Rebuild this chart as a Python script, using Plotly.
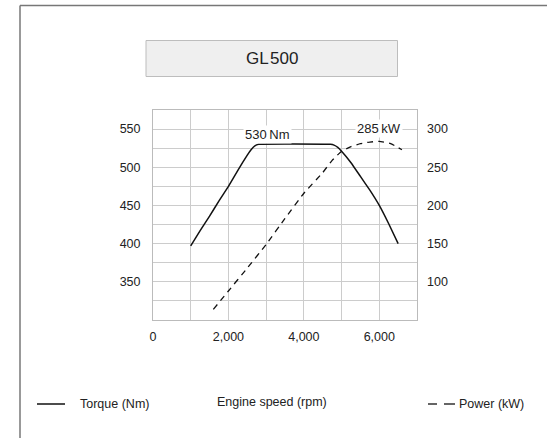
import plotly.graph_objects as go

# ---- data ----
torque_rpm = [1000, 1250, 1500, 1750, 2000, 2250, 2500, 2600, 2700, 2800, 4700, 4800, 4900, 5000, 5250, 5500, 5750, 6000, 6250, 6500]
torque_nm = [397, 417, 436, 456, 475, 496, 516, 523, 528, 530, 530, 529, 526, 521, 506, 488, 470, 450, 426, 400]

power_rpm = [1600, 2000, 2500, 3000, 3500, 4000, 4500, 4750, 5000, 5250, 5500, 5750, 6000, 6300, 6600]
power_kw = [64, 88, 118, 149, 183, 216, 243, 259, 271, 277, 281, 283, 284, 281, 273]

x_ticks = [0, 1000, 2000, 3000, 4000, 5000, 6000, 7000]
x_labels = ["0", "", "2,000", "", "4,000", "", "6,000", ""]
yl_ticks = [300, 325, 350, 375, 400, 425, 450, 475, 500, 525, 550, 575]
yl_labels = ["", "", "350", "", "400", "", "450", "", "500", "", "550", ""]
yr_ticks = [100, 150, 200, 250, 300]
yr_labels = ["100", "150", "200", "250", "300"]

title_text = "GL\u200a500"
torque_label = "530\u2009Nm"
power_label = "285\u2009kW"

FONT = "Liberation Sans"
TXT = "#222222"

fig = go.Figure()
fig.add_trace(go.Scatter(x=torque_rpm, y=torque_nm, mode="lines",
                         line=dict(color="#111111", width=1.5, shape="spline", smoothing=0.3),
                         yaxis="y", showlegend=False, hoverinfo="skip"))
fig.add_trace(go.Scatter(x=power_rpm, y=power_kw, mode="lines",
                         line=dict(color="#111111", width=1.3, dash="6px,5px", shape="spline", smoothing=0.3),
                         yaxis="y2", showlegend=False, hoverinfo="skip"))

W, H = 547, 438
PL, PR, PT, PB = 153, 417, 110, 320  # plot area in page px
L, R, T, B = PL, W - PR, PT, H - PB
PW, PH = PR - PL, PB - PT

def px(x):
    return (x - PL) / PW

def py(y):
    return (PB - y) / PH

fig.update_layout(
    width=W, height=H,
    margin=dict(l=L, r=R, t=T, b=B, pad=0),
    paper_bgcolor="white", plot_bgcolor="white",
    font=dict(family=FONT, size=12, color=TXT),
    xaxis=dict(range=[0, 7000], tickvals=x_ticks, ticktext=x_labels,
               showgrid=True, gridcolor="#cccccc", gridwidth=1,
               showline=True, linecolor="#bbbbbb", linewidth=1, mirror=True,
               zeroline=False, ticks="", ticklabelstandoff=5,
               tickfont=dict(size=12.5, color=TXT)),
    yaxis=dict(range=[300, 575], tickvals=yl_ticks, ticktext=yl_labels,
               showgrid=True, gridcolor="#cccccc", gridwidth=1,
               showline=True, linecolor="#bbbbbb", linewidth=1, mirror=True,
               zeroline=False, ticks="", ticklabelstandoff=9,
               tickfont=dict(size=12.5, color=TXT)),
    yaxis2=dict(range=[50, 325], tickvals=yr_ticks, ticktext=yr_labels,
                overlaying="y", side="right", showgrid=False, zeroline=False,
                showline=False, ticks="", ticklabelstandoff=9,
                tickfont=dict(size=12.5, color=TXT)),
)

shapes = [
    # outer frame (top + left)
    dict(type="line", xref="paper", yref="paper", x0=px(20), x1=px(547), y0=py(5.5), y1=py(5.5),
         line=dict(color="#777777", width=1.5)),
    dict(type="line", xref="paper", yref="paper", x0=px(20), x1=px(20), y0=py(5.5), y1=py(438),
         line=dict(color="#777777", width=1.5)),
    # title box
    dict(type="rect", xref="paper", yref="paper", x0=px(146), x1=px(397.5), y0=py(76.5), y1=py(40.5),
         fillcolor="#efefef", line=dict(color="#bdbdbd", width=1)),
    # legend marks
    dict(type="line", xref="paper", yref="paper", x0=px(37), x1=px(65), y0=py(404), y1=py(404),
         line=dict(color="#111111", width=1.5)),
    dict(type="line", xref="paper", yref="paper", x0=px(428), x1=px(437), y0=py(404), y1=py(404),
         line=dict(color="#111111", width=1.3)),
    dict(type="line", xref="paper", yref="paper", x0=px(444), x1=px(455), y0=py(404), y1=py(404),
         line=dict(color="#111111", width=1.3)),
]
fig.update_layout(shapes=shapes)

ann = [
    dict(text=title_text, xref="paper", yref="paper", x=px(272), y=py(59), showarrow=False,
         xanchor="center", yanchor="middle", font=dict(size=17, color=TXT)),
    dict(text=torque_label, xref="x", yref="y", x=3045, y=543, showarrow=False,
         xanchor="center", yanchor="middle", bgcolor="white", borderpad=1,
         font=dict(size=13, color=TXT)),
    dict(text=power_label, xref="x", yref="y", x=5992, y=551, showarrow=False,
         xanchor="center", yanchor="middle", bgcolor="white", borderpad=1,
         font=dict(size=13, color=TXT)),
    dict(text="Torque (Nm)", xref="paper", yref="paper", x=px(78), y=py(404), showarrow=False,
         xanchor="left", yanchor="middle", font=dict(size=12.5, color=TXT)),
    dict(text="Engine speed (rpm)", xref="paper", yref="paper", x=px(272), y=py(402), showarrow=False,
         xanchor="center", yanchor="middle", font=dict(size=12.5, color=TXT)),
    dict(text="Power (kW)", xref="paper", yref="paper", x=px(457), y=py(404), showarrow=False,
         xanchor="left", yanchor="middle", font=dict(size=12.5, color=TXT)),
]
fig.update_layout(annotations=ann)

fig.write_html("out.html", config={"displayModeBar": False},
               post_script="document.body.style.margin='0px';")
